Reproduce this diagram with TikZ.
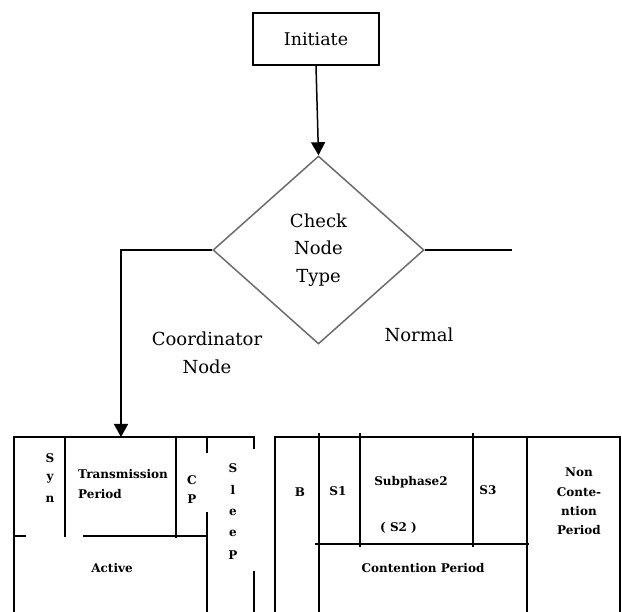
\documentclass[tikz,border=0pt]{standalone}
\usepackage{fontspec}
\setmainfont{DejaVu Serif}
\usetikzlibrary{shapes.geometric,arrows.meta}
\tikzset{
  ln/.style={line width=1.5pt, black},
  arr/.style={ln, -{Triangle[width=14pt,length=13pt]}},
  bigtxt/.style={font=\fontsize{18}{27.5}\selectfont, align=center, inner sep=0pt},
  smtxt/.style={font=\fontsize{12}{18}\selectfont\bfseries, inner sep=0pt},
  boxnode/.style={draw, ln, minimum width=126pt, minimum height=52pt, inner sep=0pt},
  dianode/.style={diamond, draw=gray!85!black, line width=1.5pt, minimum width=211pt, minimum height=188pt, inner sep=0pt, shape aspect=1.12}
}
\begin{document}
\begin{tikzpicture}[x=1pt,y=-1pt]
\useasboundingbox (0,0) rectangle (622,612);
\node[boxnode, font=\fontsize{17.5}{20}\selectfont] (init) at (316,39) {Initiate};
\node[dianode, bigtxt] (dia) at (318.5,250) {Check\\Node\\Type};
\draw[arr] (init.south) -- (dia.north);
\coordinate (ctop) at (121,437);
\coordinate (rend) at (512,250);
\draw[arr] (dia.west) -| (ctop);
\draw[ln] (dia.east) -- (rend);
\node[bigtxt] (coord) at (207,353) {Coordinator\\Node};
\node[bigtxt] (normal) at (419,335) {Normal};

% left frame
\draw[ln] (14,612) -- (14,437) -- (254,437) -- (254,449);
\draw[ln] (65,437) -- (65,537);
\draw[ln] (176,437) -- (176,538);
\draw[ln] (14,536) -- (26,536);
\draw[ln] (83,536) -- (207,536);
\draw[ln] (207,437) -- (207,453);
\draw[ln] (207,512) -- (207,612);
\draw[ln] (254,571) -- (254,612);

% right frame
\draw[ln] (275,612) -- (275,437) -- (620,437) -- (620,612);
\draw[ln] (319,433) -- (319,612);
\draw[ln] (360,433) -- (360,547);
\draw[ln] (473,433) -- (473,547);
\draw[ln] (527,437) -- (527,612);
\draw[ln] (315,544) -- (529,544);

% left texts
\node[smtxt] (s1) at (50,458) {S};
\node[smtxt] (s2) at (50,479) {y};
\node[smtxt] (s3) at (50,499) {n};
\node[smtxt, anchor=west] (tp1) at (78,474) {Transmission};
\node[smtxt, anchor=west] (tp2) at (78,494) {Period};
\node[smtxt] (c1) at (192,480) {C};
\node[smtxt] (c2) at (192,499) {P};
\node[smtxt] (l1) at (233,468) {S};
\node[smtxt] (l2) at (233,490) {l};
\node[smtxt] (l3) at (233,512) {e};
\node[smtxt] (l4) at (233,533) {e};
\node[smtxt] (l5) at (233,555) {P};
\node[smtxt] (act) at (112,568) {Active};

% right texts
\node[smtxt] (b) at (300,492) {B};
\node[smtxt] (sa) at (338,491) {S1};
\node[smtxt] (sb) at (411,482) {Subphase2};
\node[smtxt, anchor=west] (sc) at (380,528) {( S2 )};
\node[smtxt] (sd) at (488,490) {S3};
\node[smtxt] (n1) at (579,472) {Non};
\node[smtxt] (n2) at (579,492) {Conte-};
\node[smtxt] (n3) at (579,511) {ntion};
\node[smtxt] (n4) at (579,530) {Period};
\node[smtxt] (cp) at (423,568) {Contention Period};
\end{tikzpicture}
\end{document}
